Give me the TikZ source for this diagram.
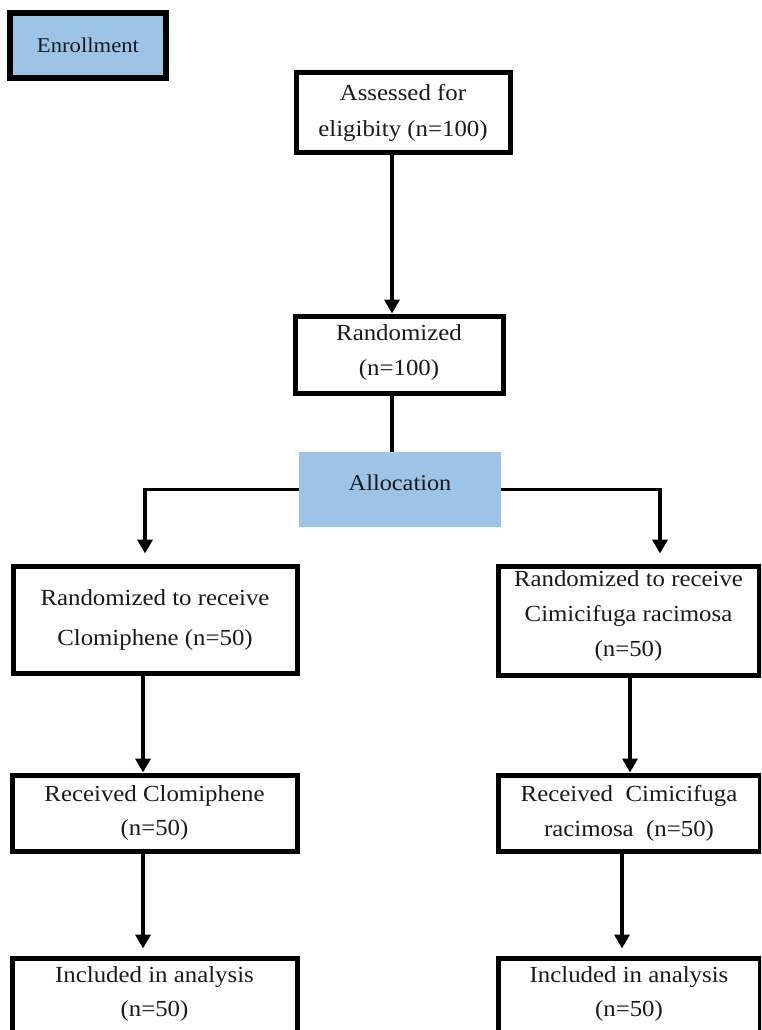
\documentclass[tikz,border=0pt]{standalone}
\usepackage{fontspec}
\setmainfont[FakeStretch=1.08]{Liberation Serif}
\usetikzlibrary{arrows.meta}
\definecolor{boxblue}{HTML}{9DC3E6}
\definecolor{txtcol}{HTML}{1A1A1A}
\begin{document}
\begin{tikzpicture}[x=1pt,y=-1pt,
  box/.style={draw=black, line width=5pt, fill=white, align=center, inner sep=0pt,
    text=txtcol, font=\fontsize{23}{36}\selectfont},
  bluebox/.style={fill=boxblue, align=center, inner sep=0pt, text=txtcol,
    font=\fontsize{22.5}{30}\selectfont},
  txt/.style={align=center, inner sep=0pt, text=txtcol, font=\fontsize{23}{34}\selectfont},
  conn/.style={line width=3.5pt},
  arr/.style={conn, -{Triangle[width=15pt,length=14pt]}},
]
\useasboundingbox (0,0) rectangle (761,1030);
\clip (0,0) rectangle (761,1030);

% Enrollment
\node[bluebox, draw=black, line width=5.5pt, minimum width=156pt, minimum height=65pt,
  font=\fontsize{21}{24}\selectfont] (enrol) at (88,45.5) {Enrollment};

% Central column
\node[box, minimum width=214pt, minimum height=79pt] (assess) at (403,112.5)
  {Assessed for\\eligibity (n=100)};
\node[box, minimum width=208pt, minimum height=77pt,
  label={[txt, font=\fontsize{23}{35}\selectfont, yshift=2pt]center:{Randomized\\(n=100)}}]
  (rand) at (399,354.5) {};
\node[bluebox, minimum width=202pt, minimum height=75pt,
  label={[txt, font=\fontsize{22.5}{30}\selectfont, yshift=6.5pt]center:{Allocation}}]
  (alloc) at (400,489.5) {};

% Left arm
\node[box, minimum width=284pt, minimum height=107pt, font=\fontsize{23}{40}\selectfont]
  (r1) at (155,619.5) {Randomized to receive\\Clomiphene (n=50)};
\node[box, minimum width=285pt, minimum height=76pt, font=\fontsize{23}{34}\selectfont]
  (rec1) at (154.5,813) {Received Clomiphene\\(n=50)};
\node[box, minimum width=285pt, minimum height=110pt,
  label={[txt, yshift=19pt]center:{Included in analysis\\(n=50)}}] (inc1) at (154.5,1013) {};

% Right arm
\node[box, minimum width=261pt, minimum height=109pt,
  label={[txt, font=\fontsize{23}{35}\selectfont, yshift=5pt]center:{Randomized to receive\\Cimicifuga racimosa\\(n=50)}}]
  (r2) at (628.5,620.5) {};
\node[box, minimum width=262pt, minimum height=76pt, font=\fontsize{23}{35}\selectfont]
  (rec2) at (629,813) {Received~ Cimicifuga\\racimosa~ (n=50)};
\node[box, minimum width=262pt, minimum height=110pt,
  label={[txt, yshift=19pt]center:{Included in analysis\\(n=50)}}] (inc2) at (629,1013) {};

% connector axes
\coordinate (mx) at (392,0);
\coordinate (lx) at (145,0);
\coordinate (rx) at (660,0);
\coordinate (lx2) at (143,0);
\coordinate (rx2) at (630,0);
\coordinate (rx3) at (622,0);

\draw[arr] (assess.south -| mx) -- (rand.north -| mx);
\draw[conn] (rand.south -| mx) -- (alloc.north -| mx);
\draw[arr, shorten >=10pt] (alloc.west) -| (r1.north -| lx);
\draw[arr, shorten >=10pt] (alloc.east) -| (r2.north -| rx);
\draw[arr] (r1.south -| lx2) -- (rec1.north -| lx2);
\draw[arr] (r2.south -| rx2) -- (rec2.north -| rx2);
\draw[arr, shorten >=7pt] (rec1.south -| lx2) -- (inc1.north -| lx2);
\draw[arr, shorten >=7pt] (rec2.south -| rx3) -- (inc2.north -| rx3);
\end{tikzpicture}
\end{document}
